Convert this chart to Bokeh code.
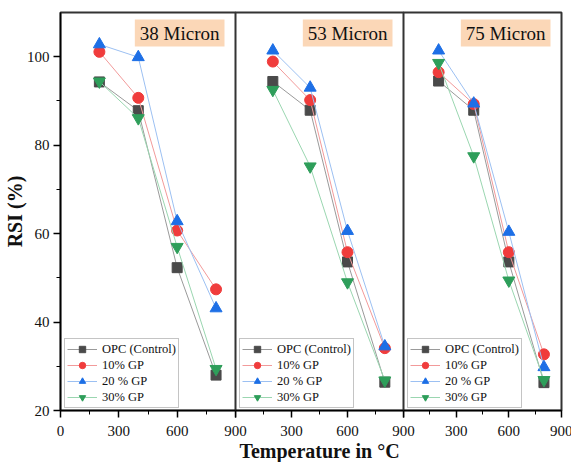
from bokeh.plotting import figure
from bokeh.layouts import row
from bokeh.models import FixedTicker, Label, Legend, LegendItem, Range1d
from bokeh.embed import file_html
from bokeh.resources import INLINE

# ---------------- data ----------------
temps = [200, 400, 600, 800]
series_names = ["OPC (Control)", "10% GP", "20 % GP", "30% GP"]
panel_titles = ["38 Micron", "53 Micron", "75 Micron"]
x_ticks = [0, 300, 600, 900]
y_ticks = [20, 40, 60, 80, 100]

opc_38 = [94.3, 87.8, 52.3, 28.0]
gp10_38 = [101.1, 90.7, 60.7, 47.4]
gp20_38 = [102.8, 99.9, 62.8, 43.1]
gp30_38 = [94.4, 86.1, 57.0, 29.4]

opc_53 = [94.4, 87.9, 53.6, 26.4]
gp10_53 = [98.9, 90.2, 55.8, 34.1]
gp20_53 = [101.4, 93.0, 60.6, 34.5]
gp30_53 = [92.5, 75.2, 49.0, 26.8]

opc_75 = [94.5, 87.9, 53.6, 26.3]
gp10_75 = [96.5, 89.3, 55.8, 32.7]
gp20_75 = [101.4, 89.4, 60.4, 29.8]
gp30_75 = [98.6, 77.5, 49.4, 26.9]

panels = [
    [opc_38, gp10_38, gp20_38, gp30_38],
    [opc_53, gp10_53, gp20_53, gp30_53],
    [opc_75, gp10_75, gp20_75, gp30_75],
]

# ---------------- styles ----------------
FONT = "Liberation Serif"
marker_colors = ["#4a4a4a", "#f03c3c", "#1d6fe6", "#2e9e5a"]
line_colors = ["#9a9a9a", "#f29a9a", "#9cc0f2", "#9ad6b0"]
markers = ["square", "circle", "triangle", "inverted_triangle"]
marker_sizes = [10, 11, 12, 12]

frame_widths = [175, 168, 158]
left_borders = [59, 0, 0]
right_borders = [12, 12, 11]


def make_panel(i):
    p = figure(
        frame_width=frame_widths[i], frame_height=398,
        min_border_left=left_borders[i], min_border_right=right_borders[i],
        min_border_top=12, min_border_bottom=20,
        x_range=Range1d(0, 900), y_range=Range1d(20, 110),
        y_axis_location="left" if i == 0 else None,
        output_backend="svg", toolbar_location=None,
    )
    if i > 0:
        p.margin = (0, 0, 0, -12)
    p.border_fill_alpha = 0
    p.background_fill_color = "white"
    p.xgrid.visible = False
    p.ygrid.visible = False
    p.outline_line_color = "#333333"
    p.outline_line_width = 2
    p.outline_line_alpha = 1

    xa = p.xaxis[0]
    xa.ticker = FixedTicker(ticks=x_ticks, minor_ticks=[150, 450, 750])
    if i > 0:
        xa.major_label_overrides = {0: ""}
    if i == 0:
        xa.major_label_text_align = "right"
    xa.major_tick_out = 7
    xa.major_tick_in = 0
    xa.minor_tick_out = 4
    xa.minor_tick_in = 0
    xa.axis_line_width = 1.5
    xa.major_tick_line_width = 1.5
    xa.major_label_text_font = FONT
    xa.major_label_text_font_size = "15px"
    xa.major_label_text_color = "#111111"
    xa.major_label_standoff = 8
    if i == 1:
        xa.axis_label = "Temperature in °C"
        xa.axis_label_text_font = FONT
        xa.axis_label_text_font_style = "bold"
        xa.axis_label_text_font_size = "20px"
        xa.axis_label_text_color = "#111111"
        xa.axis_label_standoff = 1

    if i == 0:
        ya = p.yaxis[0]
        ya.ticker = FixedTicker(ticks=y_ticks, minor_ticks=[30, 50, 70, 90])
        ya.major_tick_out = 7
        ya.major_tick_in = 0
        ya.minor_tick_out = 4
        ya.minor_tick_in = 0
        ya.axis_line_width = 1.5
        ya.major_tick_line_width = 1.5
        ya.major_label_text_font = FONT
        ya.major_label_text_font_size = "15px"
        ya.major_label_text_color = "#111111"
        ya.major_label_standoff = 4
        ya.axis_label = "RSI (%)"
        ya.axis_label_text_font = FONT
        ya.axis_label_text_font_style = "bold"
        ya.axis_label_text_font_size = "20px"
        ya.axis_label_text_color = "#111111"
        ya.axis_label_standoff = -2

    items = []
    for k, vals in enumerate(panels[i]):
        ln = p.line(temps, vals, line_color=line_colors[k], line_width=1)
        sc = p.scatter(temps, vals, marker=markers[k], size=marker_sizes[k],
                       fill_color=marker_colors[k], line_color=marker_colors[k])
        items.append(LegendItem(label=series_names[k], renderers=[ln, sc]))

    legend = Legend(items=items, location=(4, 2), margin=0, padding=2,
                    spacing=0, glyph_width=30, glyph_height=16, label_height=16,
                    label_standoff=5,
                    label_text_font=FONT, label_text_font_size="12.5px",
                    label_text_color="#111111",
                    border_line_color="#8a8a8a", border_line_width=1,
                    background_fill_color="white", background_fill_alpha=1)
    p.add_layout(legend, "center")

    title = Label(x=900, y=110, x_offset=-11, y_offset=-7,
                  text=panel_titles[i], text_align="right", text_baseline="top",
                  text_font=FONT, text_font_size="19px", text_color="#111111",
                  background_fill_color="#fbd7b7",
                  padding=dict(left=5, right=5, top=3, bottom=3))
    p.add_layout(title)
    return p


figs = [make_panel(i) for i in range(3)]
layout = row(*figs, spacing=0)

open("out.html", "w").write(file_html(layout, INLINE))
